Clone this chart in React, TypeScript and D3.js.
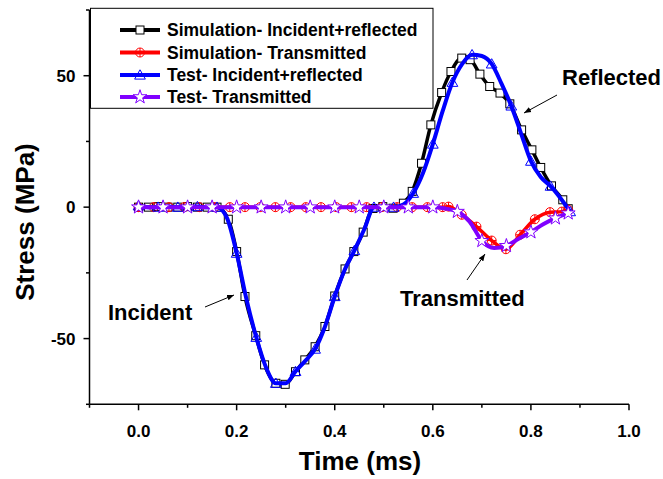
import React from "react";
import * as d3 from "d3";

// ---- Data ----
const simIRTime = [0, 0.02, 0.04, 0.06, 0.08, 0.1, 0.12, 0.14, 0.16, 0.183, 0.2, 0.217, 0.239, 0.257, 0.28, 0.299, 0.32, 0.339, 0.36, 0.38, 0.4, 0.421, 0.439, 0.458, 0.478, 0.498, 0.519, 0.54, 0.558, 0.577, 0.596, 0.618, 0.637, 0.659, 0.676, 0.696, 0.716, 0.737, 0.757, 0.781, 0.802, 0.82, 0.842, 0.865, 0.876];
const simIRStress = [0, 0, 0.2, 0, 0, 0.2, 0, 0, 0, -4.6, -16.9, -34, -48.9, -60, -67, -67.4, -62.6, -58.1, -53.1, -45.4, -33.8, -23.5, -16.9, -9.5, -0.5, 0.2, -0.4, 1.5, 6, 16.7, 31.3, 43.6, 51.6, 56.7, 56.1, 50.6, 45.9, 43.4, 39.3, 29.4, 21.8, 15.1, 8.1, 2.8, -0.6];

const simTTime = [0, 0.031, 0.062, 0.093, 0.124, 0.155, 0.186, 0.217, 0.248, 0.279, 0.31, 0.341, 0.372, 0.403, 0.434, 0.465, 0.496, 0.527, 0.558, 0.589, 0.62, 0.632, 0.659, 0.689, 0.72, 0.749, 0.778, 0.808, 0.839, 0.863, 0.876];
const simTStress = [0, 0, 0, 0, 0, 0, 0, 0, 0, 0, 0, 0, 0, 0, 0, 0, 0, 0, 0, 0, 0, 0.2, -2.9, -7.4, -12.7, -16, -10.5, -4.6, -1.9, -1.7, -1];

const testIRTime = [0, 0.02, 0.04, 0.06, 0.08, 0.1, 0.12, 0.14, 0.16, 0.18, 0.2, 0.22, 0.24, 0.26, 0.28, 0.3, 0.32, 0.34, 0.36, 0.38, 0.4, 0.42, 0.44, 0.46, 0.48, 0.5, 0.52, 0.54, 0.56, 0.58, 0.6, 0.62, 0.64, 0.66, 0.68, 0.7, 0.72, 0.74, 0.76, 0.78, 0.8, 0.82, 0.84, 0.86, 0.88];
const testIRStress = [0.5, 0, 0, 0.2, 0, 0, 0.2, 0, 0, -4, -17.5, -35, -49.5, -61, -67, -67, -62.5, -58.5, -54, -45.5, -34, -24, -16.5, -8.5, 0, 0.2, 0, 1, 5.3, 13, 24, 36.5, 47.5, 54.5, 58, 57.5, 54.5, 47, 38.5, 28, 17.5, 11.5, 8, 3.5, -1.7];

const testTTime = [0, 0.025, 0.05, 0.075, 0.1, 0.125, 0.15, 0.175, 0.2, 0.225, 0.25, 0.275, 0.3, 0.325, 0.35, 0.375, 0.4, 0.425, 0.45, 0.475, 0.5, 0.525, 0.55, 0.575, 0.6, 0.625, 0.65, 0.675, 0.7, 0.725, 0.75, 0.775, 0.8, 0.825, 0.85, 0.876];
const testTStress = [0, 0, 0, 0, 0, 0, 0, 0, 0, 0, 0, 0, 0, 0, 0, 0, 0, 0, 0, 0, 0, 0, 0, 0, 0, -0.5, -1.7, -5.5, -12.8, -15.5, -14.7, -12, -9.5, -6.5, -4.2, -2.3];

const legendLabels = ["Simulation- Incident+reflected", "Simulation- Transmitted", "Test- Incident+reflected", "Test- Transmitted"];
const xTicks = [0, 0.2, 0.4, 0.6, 0.8, 1.0];
const xMinorTicks = [-0.1, 0.1, 0.3, 0.5, 0.7, 0.9];
const yTicks = [-50, 0, 50];
const yMinorTicks = [-75, -25, 25, 75];

const FONT = "'Liberation Sans', Arial, Helvetica, sans-serif";

type Series = {
  t: number[];
  v: number[];
  color: string;
  width: number;
  marker: string;
  every: number;
};

const series: Series[] = [
  { t: simIRTime, v: simIRStress, color: "#000000", width: 3.5, marker: "square", every: 1 },
  { t: simTTime, v: simTStress, color: "#ff0000", width: 3.5, marker: "circle", every: 1 },
  { t: testIRTime, v: testIRStress, color: "#0000ff", width: 4, marker: "triangle", every: 2 },
  { t: testTTime, v: testTStress, color: "#8000ff", width: 4, marker: "star", every: 2 },
];

function Marker({ kind, cx, cy, color }: { kind: string; cx: number; cy: number; color: string }) {
  if (kind === "square") {
    return <rect x={cx - 4} y={cy - 4} width={8} height={8} fill="white" stroke={color} strokeWidth={1} />;
  }
  if (kind === "circle") {
    return (
      <g stroke={color} strokeWidth={1} fill="none">
        <circle cx={cx} cy={cy} r={4.5} fill="none" />
        <line x1={cx - 4.5} x2={cx + 4.5} y1={cy} y2={cy} />
        <line x1={cx} x2={cx} y1={cy - 4.5} y2={cy + 4.5} />
      </g>
    );
  }
  if (kind === "triangle") {
    const p = d3.symbol().type(d3.symbolTriangle).size(50)();
    return <path d={p || ""} transform={`translate(${cx},${cy + 1})`} fill="none" stroke={color} strokeWidth={1} />;
  }
  const p = d3.symbol().type(d3.symbolStar).size(60)();
  return <path d={p || ""} transform={`translate(${cx},${cy})`} fill="white" stroke={color} strokeWidth={1} />;
}

export default function App() {
  const W = 663, H = 479;
  const x = d3.scaleLinear().domain([-0.1, 1.0]).range([89.5, 629]);
  const y = d3.scaleLinear().domain([-75, 75]).range([404.3, 10]);
  const line = d3
    .line<[number, number]>()
    .x((d) => x(d[0]))
    .y((d) => y(d[1]))
    .curve(d3.curveMonotoneX);

  const x0 = x(-0.1);
  const y0 = y(-75);

  const legendY = [30, 52.5, 75, 97];

  return (
    <svg width={W} height={H} style={{ position: "absolute", left: 0, top: 0, background: "white" }} fontFamily={FONT}>
      <rect width={W} height={H} fill="white" />
      {/* series */}
      {series.map((s, i) => {
        const pts: [number, number][] = s.t.map((t, k) => [t, s.v[k]]);
        return (
          <g key={i}>
            <path d={line(pts) || ""} fill="none" stroke={s.color} strokeWidth={s.width} strokeLinejoin="round" />
            {pts.map((p, k) =>
              k % s.every === 0 || k === pts.length - 1 ? (
                <Marker key={k} kind={s.marker} cx={x(p[0])} cy={y(p[1])} color={s.color} />
              ) : null
            )}
          </g>
        );
      })}

      {/* axes */}
      <line x1={x0} x2={x0} y1={y(75)} y2={y0} stroke="black" strokeWidth={1.5} />
      <line x1={x0} x2={x(1.0)} y1={y0} y2={y0} stroke="black" strokeWidth={1.5} />
      {yTicks.map((t) => (
        <g key={"yt" + t}>
          <line x1={x0 - 6} x2={x0} y1={y(t)} y2={y(t)} stroke="black" strokeWidth={1.5} />
          <text x={x0 - 14} y={y(t)} dy="0.36em" textAnchor="end" fontWeight="bold" fontSize={17}>
            {t}
          </text>
        </g>
      ))}
      {yMinorTicks.map((t) => (
        <line key={"ym" + t} x1={x0 - 3.5} x2={x0} y1={y(t)} y2={y(t)} stroke="black" strokeWidth={1.5} />
      ))}
      {xTicks.map((t) => (
        <g key={"xt" + t}>
          <line x1={x(t)} x2={x(t)} y1={y0} y2={y0 + 6} stroke="black" strokeWidth={1.5} />
          <text x={x(t)} y={437} textAnchor="middle" fontWeight="bold" fontSize={17}>
            {t.toFixed(1)}
          </text>
        </g>
      ))}
      {xMinorTicks.map((t) => (
        <line key={"xm" + t} x1={x(t)} x2={x(t)} y1={y0} y2={y0 + 3.5} stroke="black" strokeWidth={1.5} />
      ))}

      {/* axis titles */}
      <text x={360} y={470} textAnchor="middle" fontWeight="bold" fontSize={26}>
        Time (ms)
      </text>
      <text transform={`translate(34,222) rotate(-90)`} textAnchor="middle" fontWeight="bold" fontSize={26}>
        Stress (MPa)
      </text>

      {/* legend */}
      <rect x={90.5} y={8.3} width={342.5} height={100} fill="white" stroke="black" strokeWidth={1} />
      {series.map((s, i) => (
        <g key={"lg" + i}>
          <line x1={120} x2={160} y1={legendY[i]} y2={legendY[i]} stroke={s.color} strokeWidth={4} />
          <Marker kind={s.marker} cx={140} cy={legendY[i]} color={s.color} />
          <text x={167} y={legendY[i]} dy="0.36em" fontWeight="bold" fontSize={17.5}>
            {legendLabels[i]}
          </text>
        </g>
      ))}

      {/* annotations */}
      <defs>
        <marker id="ah" viewBox="0 0 10 10" refX={10} refY={5} markerWidth={7} markerHeight={7} orient="auto">
          <path d="M0,1 L10,5 L0,9 Z" fill="black" />
        </marker>
      </defs>
      <text x={108} y={320} fontWeight="bold" fontSize={22}>Incident</text>
      <line x1={205} y1={307} x2={234} y2={295} stroke="black" strokeWidth={1} markerEnd="url(#ah)" />
      <text x={562} y={85} fontWeight="bold" fontSize={22}>Reflected</text>
      <line x1={557} y1={95} x2={524} y2={113} stroke="black" strokeWidth={1} markerEnd="url(#ah)" />
      <text x={400} y={306} fontWeight="bold" fontSize={22}>Transmitted</text>
      <line x1={467} y1={280} x2={485} y2={254} stroke="black" strokeWidth={1} markerEnd="url(#ah)" />
    </svg>
  );
}
